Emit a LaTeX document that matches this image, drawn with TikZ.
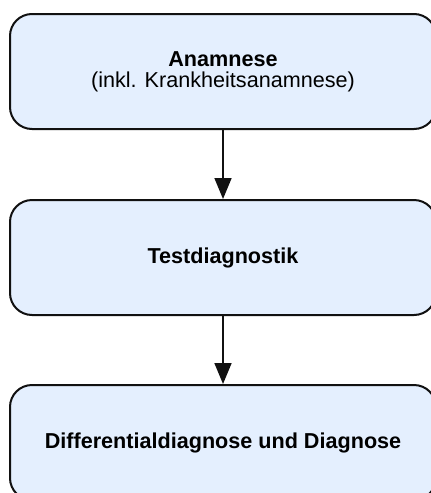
\documentclass[tikz,border=0pt]{standalone}
\usepackage{fontspec}
\setmainfont{Liberation Sans}
\usetikzlibrary{arrows.meta}
\definecolor{boxfill}{HTML}{E4EFFE}
\definecolor{boxline}{HTML}{111111}
\tikzset{
  stepbox/.style={draw=boxline, fill=boxfill, line width=2pt, rounded corners=22pt,
    minimum width=426pt, minimum height=115pt, align=center, inner sep=0pt,
    font=\fontsize{21.6}{21}\selectfont},
  conn/.style={draw=boxline, line width=1.7pt, -{Triangle[length=21pt,width=17pt]}}
}
\begin{document}
\begin{tikzpicture}[x=1pt,y=1pt]
\useasboundingbox (0,0) rectangle (431,-493);
\node[stepbox] (a) at (223,-71.5) {\textbf{Anamnese}\\(inkl. Krankheitsanamnese)};
\node[stepbox] (b) at (223,-257.5) {\textbf{Testdiagnostik}};
\node[stepbox] (c) at (223,-442.5) {\textbf{Differentialdiagnose und Diagnose}};
\draw[conn] (a) -- (b);
\draw[conn] (b) -- (c);
\end{tikzpicture}
\end{document}
